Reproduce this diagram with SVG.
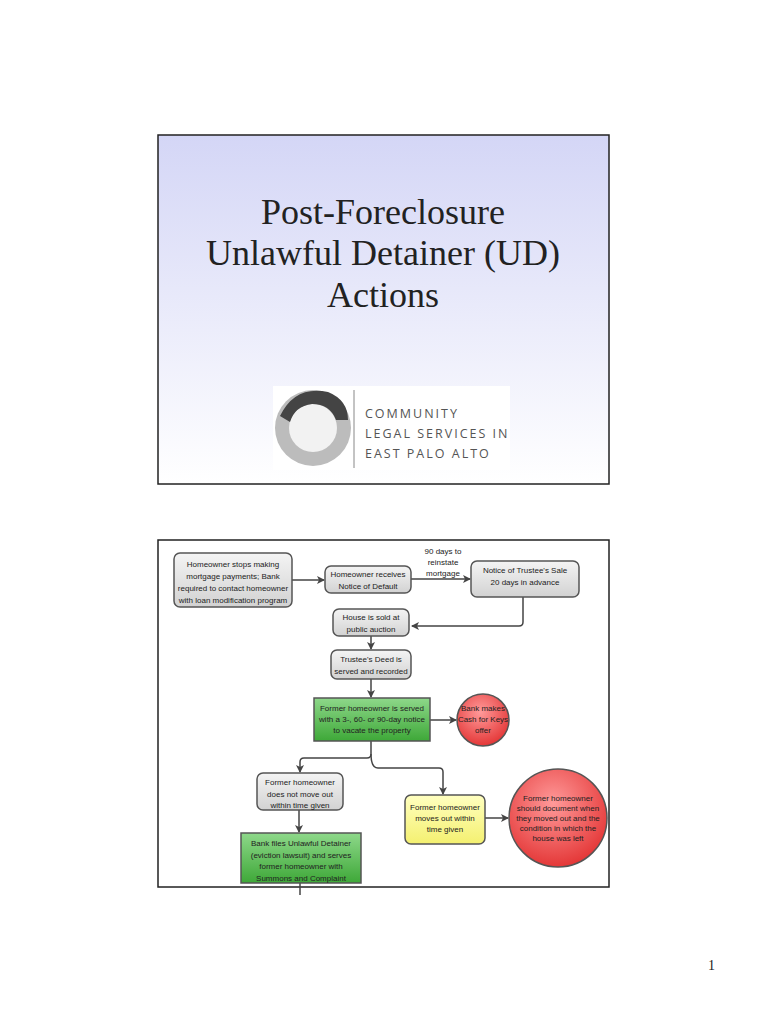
<svg xmlns="http://www.w3.org/2000/svg" width="768" height="1024" viewBox="0 0 768 1024">
<defs>
<linearGradient id="bg" x1="0" y1="0" x2="0" y2="1"><stop offset="0" stop-color="#d4d6f6"/><stop offset="1" stop-color="#ffffff"/></linearGradient>
<linearGradient id="gray" x1="0" y1="0" x2="0" y2="1"><stop offset="0" stop-color="#f4f4f4"/><stop offset="1" stop-color="#d2d2d2"/></linearGradient>
<linearGradient id="green" x1="0" y1="0" x2="0" y2="1"><stop offset="0" stop-color="#8ed88a"/><stop offset="1" stop-color="#3ea838"/></linearGradient>
<linearGradient id="yellow" x1="0" y1="0" x2="0" y2="1"><stop offset="0" stop-color="#ffffc0"/><stop offset="1" stop-color="#f4f070"/></linearGradient>
<radialGradient id="red" cx="0.45" cy="0.35" r="0.7"><stop offset="0" stop-color="#ff9a9a"/><stop offset="1" stop-color="#e23030"/></radialGradient>
<marker id="ar" markerWidth="8" markerHeight="8" refX="7" refY="4" orient="auto" markerUnits="userSpaceOnUse"><path d="M0,0 L8,4 L0,8 L2,4 Z" fill="#444"/></marker>
<style>
.t{font-family:"Liberation Sans",Arial,sans-serif;font-size:8px;fill:#222;text-anchor:middle}
.box{stroke:#555;stroke-width:1.5}
.c{fill:none;stroke:#444;stroke-width:1.5}
.title{font-family:"Liberation Serif","Times New Roman",serif;font-size:36px;fill:#222;text-anchor:middle}
.logo{font-family:"Open Sans","DejaVu Sans",sans-serif;font-size:12.5px;fill:#555;letter-spacing:2px}
</style>
</defs>
<rect width="768" height="1024" fill="#fff"/>
<g id="slide1">
<rect x="158" y="135" width="451" height="349" fill="url(#bg)" stroke="#222" stroke-width="1.5"/>
<text class="title" x="383" y="224">Post-Foreclosure</text>
<text class="title" x="383" y="265">Unlawful Detainer (UD)</text>
<text class="title" x="383" y="307">Actions</text>
<g id="logo">
<rect x="273" y="386" width="237" height="84" fill="#fff"/>
<circle cx="313" cy="428" r="38" fill="#bcbcbc"/>
<circle cx="313" cy="428" r="24" fill="#f2f2f2"/>
<path d="M280,416 Q295,385 328,392 Q348,400 348,420 L336,420 Q330,404 312,404 Q295,406 290,422 Z" fill="#444"/>
<line x1="354" y1="390" x2="354" y2="468" stroke="#888" stroke-width="1"/>
<text class="logo" x="365" y="418">COMMUNITY</text>
<text class="logo" x="365" y="438">LEGAL SERVICES IN</text>
<text class="logo" x="365" y="458">EAST PALO ALTO</text>
</g>
</g>
<rect x="158" y="540" width="451" height="347" fill="#fff" stroke="#222" stroke-width="1.5"/>
<g id="connectors">
<line class="c" x1="292" y1="580" x2="324" y2="580" marker-end="url(#ar)"/>
<line class="c" x1="411" y1="579" x2="470" y2="579" marker-end="url(#ar)"/>
<path class="c" d="M523,597 V622 Q523,626 519,626 H412" marker-end="url(#ar)"/>
<line class="c" x1="371" y1="636" x2="371" y2="649" marker-end="url(#ar)"/>
<line class="c" x1="371" y1="679" x2="371" y2="697" marker-end="url(#ar)"/>
<line class="c" x1="430" y1="720" x2="456" y2="720" marker-end="url(#ar)"/>
<path class="c" d="M371,741 V754 Q371,758 367,758 H304 Q300,758 300,762 V772" marker-end="url(#ar)"/>
<path class="c" d="M371,754 Q371,768 378,768 H439 Q443,768 443,772 V794" marker-end="url(#ar)"/>
<line class="c" x1="299" y1="810" x2="299" y2="832" marker-end="url(#ar)"/>
<line class="c" x1="300" y1="883" x2="300" y2="895"/>
<line class="c" x1="485" y1="818" x2="508" y2="818" marker-end="url(#ar)"/>
<text class="t" x="443" y="554">90 days to</text>
<text class="t" x="443" y="565">reinstate</text>
<text class="t" x="443" y="576">mortgage</text>
</g>
<g id="n1"><rect class="box" x="174" y="553" width="118" height="54" rx="6" fill="url(#gray)"/>
<text class="t" x="233" y="567">Homeowner stops making</text><text class="t" x="233" y="579">mortgage payments; Bank</text><text class="t" x="233" y="591">required to contact homeowner</text><text class="t" x="233" y="603">with loan modification program</text></g>
<g id="n2"><rect class="box" x="325" y="566" width="86" height="27" rx="6" fill="url(#gray)"/>
<text class="t" x="368" y="577">Homeowner receives</text><text class="t" x="368" y="589">Notice of Default</text></g>
<g id="n3"><rect class="box" x="471" y="561" width="108" height="36" rx="6" fill="url(#gray)"/>
<text class="t" x="525" y="573">Notice of Trustee's Sale</text><text class="t" x="525" y="585">20 days in advance</text></g>
<g id="n4"><rect class="box" x="333" y="609" width="76" height="27" rx="6" fill="url(#gray)"/>
<text class="t" x="371" y="620">House is sold at</text><text class="t" x="371" y="632">public auction</text></g>
<g id="n5"><rect class="box" x="331" y="650" width="80" height="29" rx="6" fill="url(#gray)"/>
<text class="t" x="371" y="662">Trustee's Deed is</text><text class="t" x="371" y="674">served and recorded</text></g>
<g id="n6"><rect class="box" x="314" y="698" width="116" height="43" fill="url(#green)"/>
<text class="t" x="372" y="711">Former homeowner is served</text><text class="t" x="372" y="722">with a 3-, 60- or 90-day notice</text><text class="t" x="372" y="733">to vacate the property</text></g>
<g id="c1"><circle class="box" cx="483" cy="720" r="26" fill="url(#red)"/>
<text class="t" x="483" y="711">Bank makes</text><text class="t" x="483" y="722">Cash for Keys</text><text class="t" x="483" y="733">offer</text></g>
<g id="n7"><rect class="box" x="257" y="773" width="86" height="37" rx="6" fill="url(#gray)"/>
<text class="t" x="300" y="785">Former homeowner</text><text class="t" x="300" y="797">does not move out</text><text class="t" x="300" y="808">within time given</text></g>
<g id="n8"><rect class="box" x="241" y="833" width="120" height="50" fill="url(#green)"/>
<text class="t" x="301" y="846">Bank files Unlawful Detainer</text><text class="t" x="301" y="858">(eviction lawsuit) and serves</text><text class="t" x="301" y="869">former homeowner with</text><text class="t" x="301" y="881">Summons and Complaint</text></g>
<g id="n9"><rect class="box" x="405" y="795" width="80" height="49" rx="6" fill="url(#yellow)"/>
<text class="t" x="445" y="810">Former homeowner</text><text class="t" x="445" y="821">moves out within</text><text class="t" x="445" y="832">time given</text></g>
<g id="c2"><circle class="box" cx="558" cy="818" r="49" fill="url(#red)"/>
<text class="t" x="558" y="801">Former homeowner</text><text class="t" x="558" y="811">should document when</text><text class="t" x="558" y="821">they moved out and the</text><text class="t" x="558" y="831">condition in which the</text><text class="t" x="558" y="841">house was left</text></g>
<text x="708" y="970" font-family="Liberation Serif,serif" font-size="14" fill="#222">1</text>
</svg>
